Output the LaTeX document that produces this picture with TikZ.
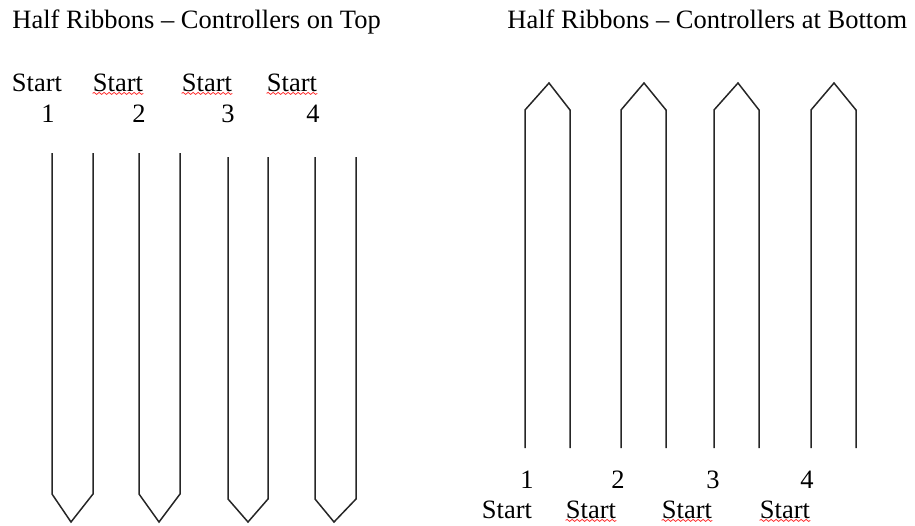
\documentclass[tikz,border=0pt]{standalone}
\usepackage{fontspec}
\setmainfont{Liberation Serif}
\usetikzlibrary{decorations.pathmorphing}

\begin{document}
\begin{tikzpicture}[x=0.5pt, y=-0.5pt, font=\fontsize{13.25}{15}\selectfont,
  ribbon/.style={line width=0.75pt, black!85, line join=miter},
  lbl/.style={inner sep=0pt, anchor=base},
  squiggle/.style={red!80, line width=0.4pt, decorate, decoration={snake, amplitude=0.5pt, segment length=2.5pt}}]
  \useasboundingbox (0,0) rectangle (915,525);
  % titles
  \node[lbl, anchor=base west] (title-top) at (12,28) {Half Ribbons – Controllers on Top};
  \node[lbl, anchor=base west] (title-bot) at (507,28) {Half Ribbons – Controllers at Bottom};
  % left: controllers on top
  \node[lbl] (startL1) at (37,91) {Start};
  \node[lbl] (startL2) at (118,91) {Start};
  \node[lbl] (startL3) at (207,91) {Start};
  \node[lbl] (startL4) at (292,91) {Start};
  \node[lbl] (numL1) at (48,122) {1};
  \node[lbl] (numL2) at (139,122) {2};
  \node[lbl] (numL3) at (228,122) {3};
  \node[lbl] (numL4) at (313,122) {4};
  \draw[ribbon] (52,153) -- (52,494) -- (71,522) -- (93,494) -- (93,153);
  \draw[ribbon] (139,153) -- (139,494) -- (159,522) -- (180,494) -- (180,153);
  \draw[ribbon] (228,157) -- (228,499) -- (248,522) -- (268,499) -- (268,157);
  \draw[ribbon] (315,157) -- (315,499) -- (334,522) -- (356,499) -- (356,157);
  % right: controllers at bottom
  \draw[ribbon] (525,448) -- (525,110) -- (549,83) -- (570,110) -- (570,448);
  \draw[ribbon] (621,448) -- (621,110) -- (644,83) -- (666,110) -- (666,448);
  \draw[ribbon] (714,448) -- (714,110) -- (738,83) -- (759,110) -- (759,448);
  \draw[ribbon] (811,448) -- (811,110) -- (834,83) -- (856,110) -- (856,448);
  \node[lbl] (numR1) at (527,488) {1};
  \node[lbl] (numR2) at (618,488) {2};
  \node[lbl] (numR3) at (713,488) {3};
  \node[lbl] (numR4) at (807,488) {4};
  \node[lbl] (startR1) at (507,518) {Start};
  \node[lbl] (startR2) at (591,518) {Start};
  \node[lbl] (startR3) at (687,518) {Start};
  \node[lbl] (startR4) at (785,518) {Start};
  % spell-check marks
  \draw[squiggle] ([yshift=-1.2pt]startL2.base west) -- ([yshift=-1.2pt]startL2.base east);
  \draw[squiggle] ([yshift=-1.2pt]startL3.base west) -- ([yshift=-1.2pt]startL3.base east);
  \draw[squiggle] ([yshift=-1.2pt]startL4.base west) -- ([yshift=-1.2pt]startL4.base east);
  \draw[squiggle] ([yshift=-1.2pt]startR2.base west) -- ([yshift=-1.2pt]startR2.base east);
  \draw[squiggle] ([yshift=-1.2pt]startR3.base west) -- ([yshift=-1.2pt]startR3.base east);
  \draw[squiggle] ([yshift=-1.2pt]startR4.base west) -- ([yshift=-1.2pt]startR4.base east);
\end{tikzpicture}
\end{document}
